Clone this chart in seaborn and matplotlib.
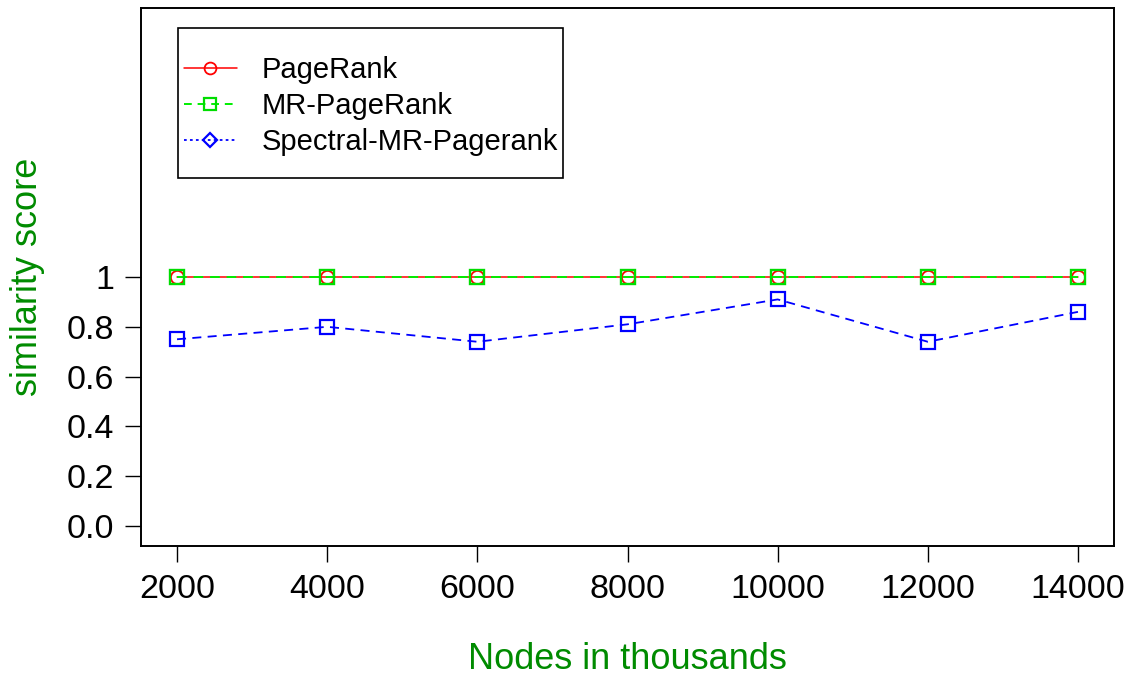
import matplotlib
matplotlib.use("Agg")
import matplotlib.pyplot as plt
from matplotlib.lines import Line2D
from matplotlib.patches import Rectangle
import seaborn as sns
import pandas as pd

# Data
nodes = [2000, 4000, 6000, 8000, 10000, 12000, 14000]
pagerank = [1.0, 1.0, 1.0, 1.0, 1.0, 1.0, 1.0]
mr_pagerank = [1.0, 1.0, 1.0, 1.0, 1.0, 1.0, 1.0]
spectral_mr_pagerank = [0.75, 0.80, 0.74, 0.81, 0.91, 0.74, 0.86]

series_names = ["PageRank", "MR-PageRank", "Spectral-MR-Pagerank"]
y_ticks = [0.0, 0.2, 0.4, 0.6, 0.8, 1.0]
y_tick_labels = ["0.0", "0.2", "0.4", "0.6", "0.8", "1"]

sns.set_style("white")
plt.rcParams["font.family"] = ["Liberation Sans", "DejaVu Sans"]
plt.rcParams["text.color"] = "black"

W, H = 1135, 675
fig = plt.figure(figsize=(W / 100, H / 100), dpi=100)
left, right, top, bottom = 141, 1114, 8, 546
ax = fig.add_axes([left / W, 1 - bottom / H, (right - left) / W, (bottom - top) / H])

df = pd.DataFrame({"nodes": nodes, "pr": pagerank, "mr": mr_pagerank, "sp": spectral_mr_pagerank})

green_label = "#008B00"
ms = 9.5

sns.lineplot(data=df, x="nodes", y="pr", ax=ax, color="red", lw=1.1,
             marker="o", markersize=ms, markerfacecolor="none",
             markeredgecolor="red", markeredgewidth=1.3, linestyle="-")
sns.lineplot(data=df, x="nodes", y="mr", ax=ax, color="#00ee00", lw=1.4,
             marker="s", markersize=ms, markerfacecolor="none",
             markeredgecolor="#00dd00", markeredgewidth=1.7, dashes=False)
ax.lines[-1].set_dashes((5, 3.5))
sns.lineplot(data=df, x="nodes", y="sp", ax=ax, color="blue", lw=1.3,
             marker="s", markersize=ms, markerfacecolor="none",
             markeredgecolor="blue", markeredgewidth=1.6, dashes=False)
ax.lines[-1].set_dashes((5, 3.5))

# Axis limits with a 4% margin on each side
xr = nodes[-1] - nodes[0]
ax.set_xlim(nodes[0] - 0.04 * xr, nodes[-1] + 0.04 * xr)
ax.set_ylim(-0.08, 2.08)

ax.set_xticks(nodes)
ax.set_xticklabels([str(n) for n in nodes])
ax.set_yticks(y_ticks)
ax.set_yticklabels(y_tick_labels)

for s in ax.spines.values():
    s.set_visible(True)
    s.set_color("black")
    s.set_linewidth(1.4)

ax.tick_params(axis="both", direction="out", length=11.5, width=1.0,
               colors="black", labelcolor="black", labelsize=24.5,
               bottom=True, left=True)
ax.tick_params(axis="x", pad=9)
ax.tick_params(axis="y", pad=8)
ax.grid(False)

ax.set_xlabel("Nodes in thousands", fontsize=26, color=green_label, va="baseline")
ax.xaxis.set_label_coords(0.5, -(669 - bottom) / (bottom - top))
ax.set_ylabel("similarity score", fontsize=26, color=green_label, va="center")
ax.yaxis.set_label_coords((28 - left) / (right - left), 0.5)

# Legend
handles = [
    Line2D([], [], color="red", lw=1.1, linestyle="-", marker="o", markersize=8.5,
           markerfacecolor="none", markeredgecolor="red", markeredgewidth=1.3),
    Line2D([], [], color="#00ee00", lw=1.4, dashes=(4, 3), marker="s", markersize=8.5,
           markerfacecolor="none", markeredgecolor="#00dd00", markeredgewidth=1.6),
    Line2D([], [], color="blue", lw=1.3, dashes=(1.5, 1.8), marker="D", markersize=7.5,
           markerfacecolor="none", markeredgecolor="blue", markeredgewidth=1.6),
]
leg = ax.legend(handles, series_names, loc="upper left",
                bbox_to_anchor=(184 / W, 1 - 56 / H), bbox_transform=fig.transFigure,
                frameon=False, fontsize=21, borderpad=0, borderaxespad=0,
                handlelength=1.8, handletextpad=0.85, labelspacing=0.28)
for t in leg.get_texts():
    t.set_color("black")
fig.patches.append(Rectangle((178 / W, 1 - 178 / H), (563 - 178) / W, (178 - 28) / H,
                             transform=fig.transFigure, fill=False,
                             edgecolor="black", linewidth=1.2, zorder=5))

fig.savefig("out.png", dpi=100)
